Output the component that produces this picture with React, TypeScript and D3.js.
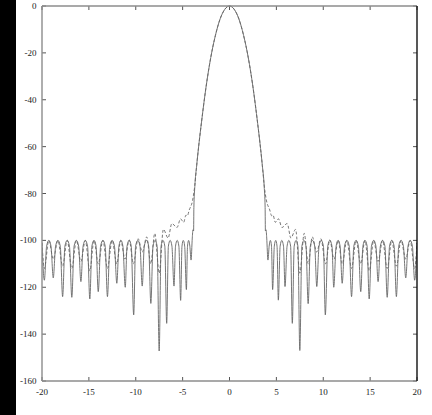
import React from "react";
import * as d3 from "d3";

const xTicks = [-20, -15, -10, -5, 0, 5, 10, 15, 20];
const yTicks = [0, -20, -40, -60, -80, -100, -120, -140, -160];

const solidLeft: [number, number][] = [
  [-20, -101], [-19.75, -117], [-19.51, -102.5], [-19.27, -100], [-19.04, -102.5],
  [-18.8, -116], [-18.55, -102.5], [-18.3, -100], [-18.05, -102.5],
  [-17.8, -124], [-17.56, -102.5], [-17.31, -100], [-17.07, -102.5],
  [-16.82, -124.3], [-16.58, -102.5], [-16.33, -100], [-16.09, -102.5],
  [-15.85, -117.6], [-15.62, -102.5], [-15.38, -100], [-15.14, -102.5],
  [-14.9, -125], [-14.68, -102.5], [-14.45, -100], [-14.23, -102.5],
  [-14.0, -121.9], [-13.75, -102.5], [-13.5, -100], [-13.26, -102.5],
  [-13.02, -124], [-12.77, -102.5], [-12.52, -100], [-12.27, -102.5],
  [-12.02, -118.3], [-11.8, -102.5], [-11.58, -100], [-11.37, -102.5],
  [-11.12, -120], [-10.93, -102.5], [-10.7, -100], [-10.48, -102.5],
  [-10.22, -131.8], [-10.02, -102.5], [-9.78, -100], [-9.55, -102.5],
  [-9.31, -119.5], [-9.09, -102.5], [-8.85, -100], [-8.62, -102.5],
  [-8.39, -126.9], [-8.16, -102.5], [-7.94, -100], [-7.72, -102.5],
  [-7.5, -147.2], [-7.3, -102.5], [-7.1, -100], [-6.9, -102.5],
  [-6.7, -135.4], [-6.52, -102.5], [-6.33, -100], [-6.14, -102.5],
  [-5.92, -119.5], [-5.76, -102.5], [-5.58, -100], [-5.4, -102.5],
  [-5.21, -125.6], [-5.07, -102.5], [-4.93, -100], [-4.78, -102.5],
  [-4.6, -121], [-4.48, -102.5], [-4.36, -100], [-4.23, -102.5],
  [-4.1, -108.4], [-3.97, -99], [-3.9, -95.5], [-3.83, -96], [-3.8, -86],
  [-3.7, -77], [-3.5, -68], [-3.25, -58.5], [-3, -50], [-2.5, -34.5],
  [-2, -22], [-1.5, -12.5], [-1, -5.5], [-0.5, -1.4],
];

const solidRight: [number, number][] = [
  [0, 0], [0.5, -1.4], [1, -5.5], [1.5, -12.5], [2, -22], [2.5, -34.5],
  [3, -50], [3.25, -58.5], [3.5, -68], [3.7, -77], [3.8, -86], [3.83, -96],
  [3.9, -95.5], [3.97, -99],
  [4.1, -108.4], [4.23, -102.5], [4.36, -100], [4.48, -102.5],
  [4.6, -121], [4.78, -102.5], [4.93, -100], [5.07, -102.5],
  [5.21, -125.5], [5.4, -102.5], [5.58, -100], [5.76, -102.5],
  [5.92, -119.7], [6.14, -102.5], [6.33, -100], [6.52, -102.5],
  [6.7, -135.4], [6.9, -102.5], [7.1, -100], [7.3, -102.5],
  [7.5, -147], [7.72, -102.5], [7.94, -100], [8.16, -102.5],
  [8.39, -127], [8.62, -102.5], [8.85, -100], [9.09, -102.5],
  [9.31, -119.7], [9.55, -102.5], [9.78, -100], [10.02, -102.5],
  [10.22, -131.8], [10.48, -102.5], [10.7, -100], [10.93, -102.5],
  [11.12, -120], [11.37, -102.5], [11.58, -100], [11.8, -102.5],
  [12.02, -118.3], [12.27, -102.5], [12.52, -100], [12.77, -102.5],
  [13.02, -124], [13.26, -102.5], [13.5, -100], [13.75, -102.5],
  [14.0, -121.9], [14.23, -102.5], [14.45, -100], [14.68, -102.5],
  [14.9, -125], [15.14, -102.5], [15.38, -100], [15.62, -102.5],
  [15.85, -117.6], [16.09, -102.5], [16.33, -100], [16.58, -102.5],
  [16.82, -124.3], [17.07, -102.5], [17.31, -100], [17.56, -102.5],
  [17.8, -124], [18.05, -102.5], [18.3, -100], [18.55, -102.5],
  [18.8, -116], [19.04, -102.5], [19.27, -100], [19.51, -102.5],
  [19.75, -117], [20, -101],
];

const dashedLeft: [number, number][] = [
  [-20, -101], [-19.75, -112], [-19.27, -100], [-18.8, -108], [-18.3, -100],
  [-17.8, -111], [-17.31, -100], [-16.82, -112], [-16.33, -100], [-15.85, -109],
  [-15.38, -100], [-14.9, -113], [-14.45, -100], [-14.0, -110], [-13.5, -100],
  [-13.02, -112], [-12.52, -100], [-12.02, -110], [-11.6, -100], [-11.15, -108],
  [-10.7, -99.8], [-10.25, -110], [-9.75, -99.3], [-9.3, -105], [-8.83, -98.5],
  [-8.4, -110], [-7.97, -97], [-7.5, -114], [-7.05, -95.3], [-6.55, -99],
  [-6.15, -92.8], [-5.6, -94.5], [-5.22, -90.8], [-4.89, -92.3], [-4.64, -89.2],
  [-4.5, -89.5], [-4.29, -87], [-3.93, -82.8], [-3.7, -76.5], [-3.5, -68],
  [-3.25, -58.5], [-3, -50], [-2.5, -34.5], [-2, -22], [-1.5, -12.5],
  [-1, -5.5], [-0.5, -1.4],
];

const dashedRight: [number, number][] = [
  [0, 0], [0.5, -1.4], [1, -5.5], [1.5, -12.5], [2, -22], [2.5, -34.5],
  [3, -50], [3.25, -58.5], [3.5, -68], [3.7, -76.5], [3.93, -82.8],
  [4.29, -87], [4.5, -89.5], [4.64, -89.2], [4.89, -92.3], [5.22, -90.8],
  [5.6, -94.5], [6.15, -92.8], [6.55, -99], [7.05, -95.3], [7.5, -114],
  [7.97, -97], [8.4, -110], [8.83, -98.5], [9.3, -105], [9.75, -99.3],
  [10.25, -110], [10.7, -99.8], [11.15, -108], [11.6, -100], [12.02, -110],
  [12.52, -100], [13.02, -112], [13.5, -100], [14.0, -110], [14.45, -100],
  [14.9, -113], [15.38, -100], [15.85, -109], [16.33, -100], [16.82, -112],
  [17.31, -100], [17.8, -111], [18.3, -100], [18.8, -108], [19.27, -100],
  [19.75, -112], [20, -101],
];

const W = 432;
const H = 415;
const left = 42;
const right = 417;
const top = 6;
const bottom = 381;

export default function App() {
  const x = d3.scaleLinear().domain([-20, 20]).range([left, right]);
  const y = d3.scaleLinear().domain([-160, 0]).range([bottom, top]);
  const line = d3
    .line<[number, number]>()
    .x((d) => x(d[0]))
    .y((d) => y(d[1]))
    .curve(d3.curveMonotoneX);

  const solid = [...solidLeft, ...solidRight];
  const dashed = [...dashedLeft, ...dashedRight];
  const frame = "#8c8c8c";
  const font = "'Liberation Serif', 'DejaVu Serif', serif";

  return (
    <div style={{ position: "absolute", left: 0, top: 0 }}>
      <svg width={W} height={H} style={{ display: "block", background: "#fff" }}>
        <rect x={0} y={0} width={W} height={H} fill="#fff" />
        <rect x={0} y={0} width={16} height={H} fill="#000" />
        <defs>
          <clipPath id="plot">
            <rect x={left} y={top - 1} width={right - left} height={bottom - top + 2} />
          </clipPath>
        </defs>
        <g clipPath="url(#plot)">
          <path d={line(dashed) || ""} fill="none" stroke="#666" strokeWidth={0.9} strokeDasharray="3,2" />
          <path d={line(solid) || ""} fill="none" stroke="#666" strokeWidth={0.9} />
        </g>
        {/* ticks */}
        {xTicks.map((t) => (
          <g key={"xt" + t}>
            <line x1={x(t)} x2={x(t)} y1={bottom} y2={bottom - 4} stroke="#555" strokeWidth={1} />
            <line x1={x(t)} x2={x(t)} y1={top} y2={top + 4} stroke="#555" strokeWidth={1} />
            <text x={x(t)} y={395} textAnchor="middle" fontFamily={font} fontSize={9} fill="#222">
              {String(t)}
            </text>
          </g>
        ))}
        {yTicks.map((t) => (
          <g key={"yt" + t}>
            <line x1={left} x2={left + 4} y1={y(t)} y2={y(t)} stroke="#555" strokeWidth={1} />
            <line x1={right} x2={right - 4} y1={y(t)} y2={y(t)} stroke="#555" strokeWidth={1} />
            <text x={36.5} y={y(t) + 3} textAnchor="end" fontFamily={font} fontSize={9} fill="#222">
              {String(t)}
            </text>
          </g>
        ))}
        {/* frame */}
        <line x1={left} x2={left} y1={top} y2={bottom} stroke={frame} strokeWidth={1.4} />
        <line x1={left} x2={right} y1={top} y2={top} stroke={frame} strokeWidth={1.4} />
        <line x1={left} x2={right} y1={bottom} y2={bottom} stroke={frame} strokeWidth={1.4} />
        <line x1={right} x2={right} y1={top} y2={bottom} stroke="#111" strokeWidth={1.4} />
      </svg>
    </div>
  );
}
